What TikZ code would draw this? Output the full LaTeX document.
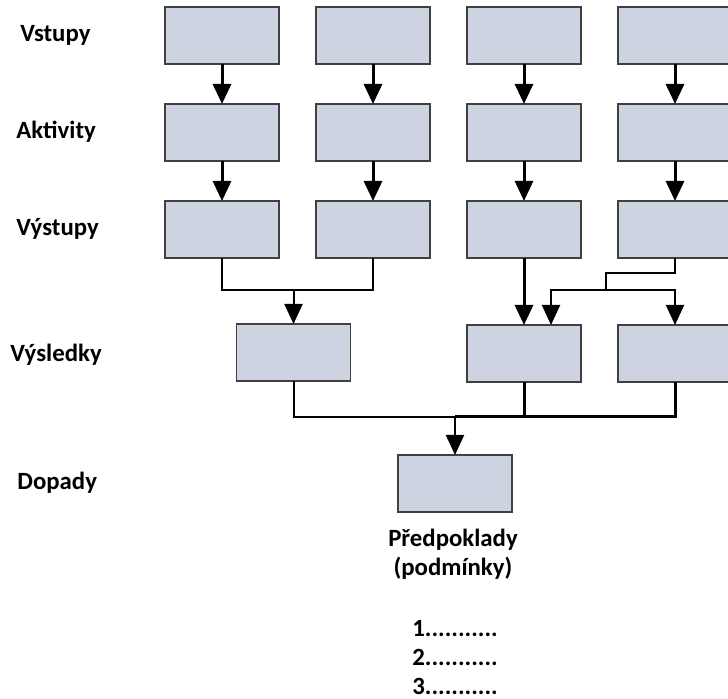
\documentclass[tikz,border=0pt]{standalone}
\usepackage{fontspec}
\setmainfont{Carlito}
\usetikzlibrary{arrows.meta, positioning}

\definecolor{boxfill}{RGB}{205,211,224}
\definecolor{boxline}{RGB}{64,64,64}

\tikzset{
    box/.style={draw=boxline, fill=boxfill, line width=0.7pt, outer sep=0pt,
        inner sep=0pt, minimum width=57pt, minimum height=28.5pt},
    rowlabel/.style={anchor=base west, inner sep=0pt,
        font=\fontsize{12.4}{15}\selectfont\bfseries},
    tip/.style={-{Triangle[length=10pt,width=9pt]}},
    flow/.style={tip, line width=1.5pt},
    link/.style={line width=1pt},
    linkflow/.style={tip, line width=1pt},
}

\begin{document}
\begin{tikzpicture}[x=0.5pt, y=-0.5pt]
    \useasboundingbox (0,0) rectangle (728,699);

    % row labels
    \node [rowlabel] (lblin) at (20,42) {Vstupy};
    \node [rowlabel] (lblact) at (16,139) {Aktivity};
    \node [rowlabel] (lblout) at (16,236) {Výstupy};
    \node [rowlabel] (lblres) at (10,362) {Výsledky};
    \node [rowlabel] (lblimp) at (17,490) {Dopady};

    % inputs
    \node [box] (in1) at (222,35.5) {};
    \node [box, right=18.5pt of in1] (in2) {};
    \node [box, right=18.5pt of in2] (in3) {};
    \node [box, right=18.5pt of in3] (in4) {};

    % activities
    \node [box, below=20pt of in1] (act1) {};
    \node [box, below=20pt of in2] (act2) {};
    \node [box, below=20pt of in3] (act3) {};
    \node [box, below=20pt of in4] (act4) {};

    % outputs
    \node [box, below=20pt of act1] (out1) {};
    \node [box, below=20pt of act2] (out2) {};
    \node [box, below=20pt of act3] (out3) {};
    \node [box, below=20pt of act4] (out4) {};

    % results
    \node [box] (res1) at (293.5,352.5) {};
    \node [box, below=33.5pt of out3] (res2) {};
    \node [box, below=33.5pt of out4] (res3) {};

    % impact
    \node [box] (imp) at (455,483.5) {};

    \draw [flow] (in1) -- (act1);
    \draw [flow] (in2) -- (act2);
    \draw [flow] (in3) -- (act3);
    \draw [flow] (in4) -- (act4);
    \draw [flow] (act1) -- (out1);
    \draw [flow] (act2) -- (out2);
    \draw [flow] (act3) -- (out3);
    \draw [flow] (act4) -- (out4);

    % outputs -> results
    \coordinate (bus1) at (293.5,290);
    \draw [link] (out1.south) |- (bus1) -| (out2.south);
    \draw [linkflow] (bus1) -- (res1);
    \draw [flow] (out3) -- (res2);
    \coordinate (k1) at (606,273);
    \coordinate (k2) at (606,290);
    \draw [link] (out4.south) |- (k1) -- (k2);
    \draw [linkflow] (k2) -| ([xshift=13.5pt]res2.north);
    \draw [linkflow] (k2) -| (res3.north);

    % results -> impact
    \coordinate (bus2) at (455,417);
    \draw [link] (res1.south) |- (bus2);
    \draw [flow, -] (res2.south) -- (res2.south |- bus2);
    \draw [flow, -] (bus2) -| (res3.south);
    \draw [linkflow] (bus2) -- (imp);

    % conditions
    \node [anchor=base, inner sep=0pt, font=\fontsize{12.4}{15}\selectfont\bfseries]
        (cond) at (453,547) {Předpoklady};
    \node [anchor=base, inner sep=0pt, font=\fontsize{12.4}{15}\selectfont\bfseries]
        (condsub) at (453,575) {(podmínky)};
    \node [rowlabel] (item1) at (412,636) {1...........};
    \node [rowlabel] (item2) at (412,665) {2...........};
    \node [rowlabel] (item3) at (412,694) {3...........};
\end{tikzpicture}
\end{document}
